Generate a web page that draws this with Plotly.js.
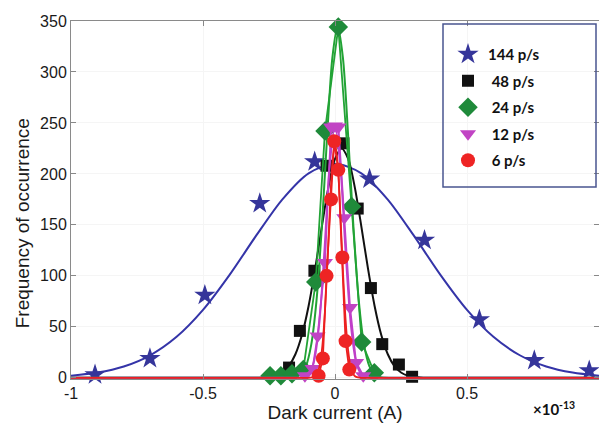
<!DOCTYPE html>
<html>
<head>
<meta charset="utf-8">
<script src="https://cdn.plot.ly/plotly-3.0.1.min.js"></script>
<style>html,body{margin:0;padding:0;background:#fff;}#chart{width:599px;height:427px;}</style>
</head>
<body>
<div id="chart"></div>
<script>
// ---- Data (x in units of 1e-13 A, y = frequency) ----
const seriesNames = ["144 p/s", "48 p/s", "24 p/s", "12 p/s", "6 p/s"];

// 144 p/s measured points
const blueX = [-0.909, -0.701, -0.493, -0.285, -0.077, 0.131, 0.339, 0.547, 0.755, 0.963];
const blueY = [3, 19, 81, 171, 212, 195, 135, 57, 17, 7];
// 144 p/s fitted curve
const blueFitX = [-1, -0.9, -0.8, -0.7, -0.6, -0.5, -0.4, -0.3, -0.2, -0.1, 0, 0.1, 0.2, 0.3, 0.4, 0.5, 0.6, 0.7, 0.8, 0.9, 1];
const blueFitY = [2.1, 5.1, 11.1, 22.1, 40.2, 66.6, 100.7, 138.9, 174.8, 200.6, 210, 200.6, 174.8, 138.9, 100.7, 66.6, 40.2, 22.1, 11.1, 5.1, 2.1];

// 48 p/s
const blackX = [-0.174, -0.133, -0.078, -0.032, 0.032, 0.086, 0.136, 0.179, 0.242, 0.292];
const blackY = [10, 46, 105, 208, 230, 166, 88, 33, 13, 1];
const blackFitX = [-1, -0.375, -0.275, -0.225, -0.2, -0.175, -0.15, -0.125, -0.1, -0.075, -0.05, -0.025, 0, 0.025, 0.05, 0.075, 0.1, 0.125, 0.15, 0.175, 0.2, 0.225, 0.25, 0.275, 0.325, 0.425, 1];
const blackFitY = [0, 0, 0.3, 2.2, 5.2, 11.5, 23.1, 42.2, 70.4, 107.0, 148.1, 186.8, 214.8, 225, 214.8, 186.8, 148.1, 107.0, 70.4, 42.2, 23.1, 11.5, 5.2, 2.2, 0.3, 0, 0];

// 24 p/s
const greenX = [-0.246, -0.205, -0.163, -0.12, -0.073, -0.038, 0.0125, 0.063, 0.101, 0.149];
const greenY = [2, 2, 4, 8, 94, 242, 344, 168, 35, 5];
const greenFitX = [-1, -0.25, -0.19, -0.15, -0.13, -0.11, -0.09, -0.07, -0.05, -0.03, -0.01, 0.01, 0.03, 0.05, 0.07, 0.09, 0.11, 0.13, 0.15, 0.17, 0.21, 0.27, 1];
const greenFitY = [0, 0, 0, 0.8, 3.4, 11.5, 32.5, 76.0, 147.4, 236.4, 313.9, 345, 313.9, 236.4, 147.4, 76.0, 32.5, 11.5, 3.4, 0.8, 0, 0, 0];

// 12 p/s
const magX = [-0.114, -0.085, -0.066, -0.038, -0.015, 0.0, 0.013, 0.035, 0.057, 0.08, 0.107];
const magY = [2, 9, 41, 113, 246, 247, 246, 157, 69, 15, 2];
const magFitX = [-1, -0.2, -0.16, -0.12, -0.1, -0.08, -0.06, -0.04, -0.02, 0, 0.02, 0.04, 0.06, 0.08, 0.1, 0.12, 0.16, 0.2, 1];
const magFitY = [0, 0, 0, 0.5, 3.3, 15.6, 52.3, 124.2, 208.6, 248, 208.6, 124.2, 52.3, 15.6, 3.3, 0.5, 0, 0, 0];

// 6 p/s
const redX = [-0.062, -0.046, -0.032, -0.015, -0.003, 0.0125, 0.028, 0.04, 0.054];
const redY = [2, 19, 100, 175, 232, 204, 118, 36, 8];
const redFitX = [-1, -0.15, -0.1, -0.08, -0.07, -0.06, -0.05, -0.04, -0.03, -0.02, -0.01, 0, 0.01, 0.02, 0.03, 0.04, 0.05, 0.06, 0.07, 0.08, 0.1, 0.15, 1];
const redFitY = [0, 0, 0, 0.9, 3.3, 10.1, 26.3, 57.4, 105.3, 162.5, 210.9, 230, 210.9, 162.5, 105.3, 57.4, 26.3, 10.1, 3.3, 0.9, 0, 0, 0];

const xTicks = [-1, -0.5, 0, 0.5, 1];
const xTickText = ["-1", "-0.5", "0", "0.5", "1"];
const yTicks = [0, 50, 100, 150, 200, 250, 300, 350];

// ---- Styles ----
const C = {
  blue: "#35359a", blueLine: "#3434a8",
  black: "#111111",
  green: "#1f8a3a", greenLine: "#22a335",
  mag: "#c144c4", magLine: "#c040c8",
  red: "#ee2424", redLine: "#ec2020"
};
const pad = "\u00a0";
function nm(i, lead) { return pad.repeat(lead) + seriesNames[i]; }

const fitLine = (x, y, color, w) => ({x, y, type: "scatter", mode: "lines", line: {color, width: w, shape: "spline", smoothing: 0.8}, showlegend: false, hoverinfo: "skip"});
const joinLine = (x, y, color, w) => ({x, y, type: "scatter", mode: "lines", line: {color, width: w}, showlegend: false, hoverinfo: "skip"});
const pts = (x, y, name, symbol, color, size, grp) => ({x, y, name, type: "scatter", mode: "markers", legendgroup: grp, cliponaxis: false,
  marker: {symbol, color, size, line: {width: 0}}});

const traces = [
  fitLine(blueFitX, blueFitY, C.blueLine, 2),
  pts(blueX, blueY, nm(0, 0), "star", C.blue, 16, "a"),
  fitLine(blackFitX, blackFitY, C.black, 2),
  pts(blackX, blackY, nm(1, 1), "square", C.black, 12, "b"),
  fitLine(greenFitX, greenFitY, C.greenLine, 2),
  joinLine(greenX, greenY, C.greenLine, 1.8),
  pts(greenX, greenY, nm(2, 1), "diamond", C.green, 15, "c"),
  fitLine(magFitX, magFitY, C.magLine, 2),
  joinLine(magX, magY, C.magLine, 1.8),
  pts(magX, magY, nm(3, 1), "triangle-down", C.mag, 14, "d"),
  fitLine(redFitX, redFitY, C.redLine, 1.8),
  joinLine(redX, redY, C.redLine, 1.8),
  pts(redX, redY, nm(4, 1), "circle", C.red, 14, "e")
];

const fam = "Liberation Sans, Arial, sans-serif";
const axisFont = {family: fam, size: 16, color: "#1a1a1a"};
// legend frame in paper coordinates (plot area: x 71..599 px, y 21..379 px)
const legendBox = {x0: (443 - 71) / 528, x1: (596 - 71) / 528, y0: (379 - 187) / 358, y1: (379 - 24) / 358};

const layout = {
  width: 599, height: 427,
  margin: {l: 71, r: 0, t: 21, b: 48, pad: 0},
  paper_bgcolor: "#ffffff", plot_bgcolor: "#ffffff",
  font: axisFont,
  xaxis: {
    range: [-1, 1], tickvals: xTicks, ticktext: xTickText,
    ticks: "inside", ticklen: 5, tickcolor: "#888", tickwidth: 1,
    showline: true, linecolor: "#8a8a8a", linewidth: 1, mirror: "ticks",
    showgrid: true, gridcolor: "#f5f5f5", zeroline: false,
    tickfont: axisFont,
    title: {text: "Dark current (A)", font: {family: fam, size: 19, color: "#1a1a1a"}, standoff: 4}
  },
  yaxis: {
    range: [-1.2, 350], tickvals: yTicks,
    ticks: "inside", ticklen: 5, tickcolor: "#888", tickwidth: 1,
    showline: true, linecolor: "#8a8a8a", linewidth: 1, mirror: "ticks",
    showgrid: true, gridcolor: "#f5f5f5", zeroline: false,
    tickfont: axisFont
  },
  showlegend: true,
  legend: {
    x: (448 - 71) / 528, y: (379 - 38) / 358, xanchor: "left", yanchor: "top",
    bgcolor: "rgba(255,255,255,0)", borderwidth: 0,
    font: {family: "Lato, Open Sans, sans-serif", size: 15, color: "#111", weight: 700},
    tracegroupgap: 4, itemsizing: "trace"
  },
  shapes: [{
    type: "rect", xref: "paper", yref: "paper", layer: "above",
    x0: legendBox.x0, x1: legendBox.x1, y0: legendBox.y0, y1: legendBox.y1,
    line: {color: "#4a5590", width: 1.5}, fillcolor: "rgba(255,255,255,0)"
  }],
  annotations: [{
    xref: "paper", yref: "paper", x: 0.915, y: -0.083, xanchor: "center", yanchor: "middle",
    text: "<b>×10<sup>-13</sup></b>", showarrow: false,
    font: {family: "Lato, Liberation Sans, sans-serif", size: 15, color: "#111"}
  }, {
    xref: "paper", yref: "paper", x: -0.0928, y: 0.435, xanchor: "center", yanchor: "middle",
    textangle: -90, text: "Frequency of occurrence", showarrow: false,
    font: {family: fam, size: 19, color: "#1a1a1a"}
  }]
};

Plotly.newPlot("chart", traces, layout, {displayModeBar: false, staticPlot: true});
</script>
</body>
</html>
